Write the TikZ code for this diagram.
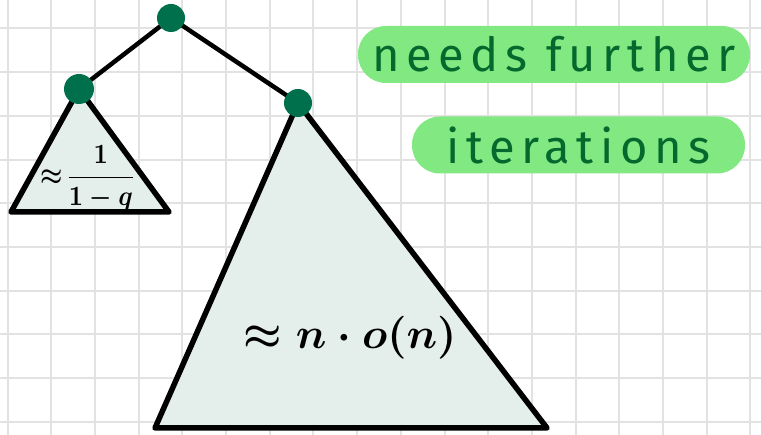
\documentclass[tikz,border=0pt]{standalone}
\usepackage{fontspec}
\usepackage{amsmath,amssymb}
\usepackage{graphicx}
\usepackage{xcolor}
\newfontfamily\handfont[LetterSpace=14]{Fira Sans}
\usetikzlibrary{positioning, calc, backgrounds}
\definecolor{dotgreen}{HTML}{00704C}
\definecolor{inkgreen}{HTML}{05692D}
\definecolor{pillgreen}{HTML}{82E882}
\definecolor{trifill}{HTML}{E4EEEA}
\definecolor{gridgray}{HTML}{E2E2E2}

\begin{document}
\begin{tikzpicture}[x=1pt,y=-1pt,
    dot/.style={circle, fill=dotgreen, minimum size=28pt, inner sep=0pt},
    branch/.style={line width=4.5pt, black},
    tri/.style={line width=5.5pt, black, fill=trifill, line join=round},
    pill/.style={rounded corners=28pt, fill=pillgreen, text=inkgreen, inner sep=0pt,
        minimum height=57pt, font=\handfont\fontsize{47}{50}\selectfont}]
    \useasboundingbox (0,0) rectangle (761,435);

    % Tree nodes
    \node[dot] (root) at (171,18) {};
    \node[dot, minimum size=30pt] (lchild) at (79,89) {};
    \node[dot] (rchild) at (298,103) {};

    % Subtree sizes
    \node (lsize) at (88,178) {\scalebox{2.5}[2.8]{\boldmath$\approx\!\dfrac{1}{1-q}$}};
    \node (rsize) at (350,338) {\scalebox{4.3}{\boldmath$\approx n\cdot o(n)$}};

    % Note
    \node[pill, minimum width=392pt] (note1) at (554,54.5) {needs further};
    \node[pill, minimum width=333pt] (note2) at (578.5,145) {iterations};

    \begin{scope}[on background layer]
        % Grid
        \foreach \i in {0,...,17}
            \draw[gridgray, line width=2pt] (7.5+43.7*\i,0) -- (7.5+43.7*\i,435);
        \foreach \j in {0,...,9}
            \draw[gridgray, line width=2pt] (0,28.5+43.7*\j) -- (761,28.5+43.7*\j);

        % Subtrees
        \coordinate (lleft) at (11,212);
        \coordinate (lright) at (169,212);
        \coordinate (rleft) at (155,428);
        \coordinate (rright) at (547,428);
        \draw[tri] (lchild.center) -- (lleft) -- (lright) -- cycle;
        \draw[tri] (rchild.center) -- (rleft) -- (rright) -- cycle;

        % Branches
        \draw[branch] (root.center) -- (lchild.center);
        \draw[branch] (root.center) -- (rchild.center);
    \end{scope}
\end{tikzpicture}
\end{document}
